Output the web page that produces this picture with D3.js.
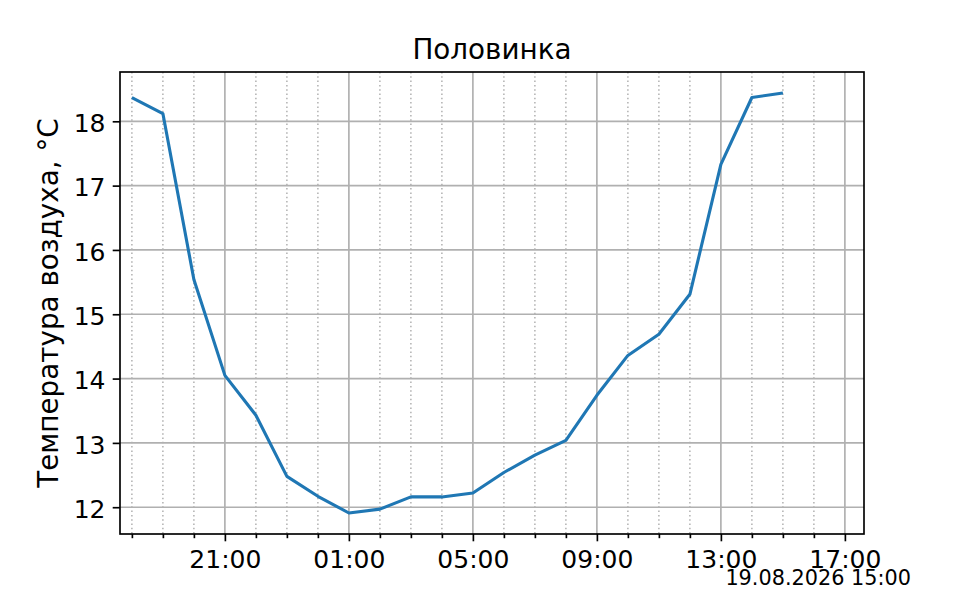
<!DOCTYPE html>
<html><head><meta charset="utf-8">
<script src="https://cdn.jsdelivr.net/npm/d3@7"></script>
<style>
body{margin:0;background:#fff;}
text{font-family:"DejaVu Sans",sans-serif;fill:#000;}
</style></head>
<body><svg id="c" width="960" height="600"></svg>
<script>
const title = "Половинка";
const yLabel = "Температура воздуха, °C";
const stamp = "19.08.2026 15:00";
const times = ["2026-08-18T18:00","2026-08-18T19:00","2026-08-18T20:00","2026-08-18T21:00","2026-08-18T22:00","2026-08-18T23:00","2026-08-19T00:00","2026-08-19T01:00","2026-08-19T02:00","2026-08-19T03:00","2026-08-19T04:00","2026-08-19T05:00","2026-08-19T06:00","2026-08-19T07:00","2026-08-19T08:00","2026-08-19T09:00","2026-08-19T10:00","2026-08-19T11:00","2026-08-19T12:00","2026-08-19T13:00","2026-08-19T14:00","2026-08-19T15:00"];
const temps = [18.37,18.12,15.54,14.05,13.43,12.48,12.17,11.91,11.97,12.16,12.16,12.22,12.54,12.81,13.04,13.74,14.36,14.69,15.31,17.33,18.37,18.44];
const xStart = "2026-08-18T17:37", xEnd = "2026-08-19T17:37";
const yTicks = [12,13,14,15,16,17,18];

const W=960,H=600,L=120,R=864,T=72,B=534;
const svg=d3.select("#c");
const parse=d3.timeParse("%Y-%m-%dT%H:%M");
const data=times.map((t,i)=>({t:parse(t),v:temps[i]}));
const x=d3.scaleTime().domain([parse(xStart),parse(xEnd)]).range([L,R]);
const ext=d3.extent(temps), pad=(ext[1]-ext[0])*0.05;
const y=d3.scaleLinear().domain([ext[0]-pad,ext[1]+pad]).range([B,T]);

const hours=x.ticks(d3.timeHour.every(1));
const majors=hours.filter(d=>d.getHours()%4===1);
const minors=hours.filter(d=>d.getHours()%4!==1);

// minor grid (dotted)
svg.append("g").selectAll("line").data(minors).join("line")
 .attr("x1",d=>x(d)).attr("x2",d=>x(d)).attr("y1",T).attr("y2",B)
 .attr("stroke","#b0b0b0").attr("stroke-width",1.5).attr("stroke-dasharray","1.5,2.8");
// major grid
svg.append("g").selectAll("line").data(majors).join("line")
 .attr("x1",d=>x(d)).attr("x2",d=>x(d)).attr("y1",T).attr("y2",B)
 .attr("stroke","#b0b0b0").attr("stroke-width",1.67);
svg.append("g").selectAll("line").data(yTicks).join("line")
 .attr("x1",L).attr("x2",R).attr("y1",d=>y(d)).attr("y2",d=>y(d))
 .attr("stroke","#b0b0b0").attr("stroke-width",1.67);

// line
svg.append("path").datum(data)
 .attr("d",d3.line().x(d=>x(d.t)).y(d=>y(d.v)))
 .attr("fill","none").attr("stroke","#1f77b4").attr("stroke-width",3.1)
 .attr("stroke-linejoin","round").attr("stroke-linecap","butt");

// axes
const xAxis=svg.append("g").attr("transform",`translate(0,${B})`)
 .call(d3.axisBottom(x).tickValues(majors).tickFormat(d3.timeFormat("%H:%M")).tickSize(7.3));
const xMinor=svg.append("g").attr("transform",`translate(0,${B})`)
 .call(d3.axisBottom(x).tickValues(minors).tickFormat("").tickSize(4.2));
const yAxis=svg.append("g").attr("transform",`translate(${L},0)`)
 .call(d3.axisLeft(y).tickValues(yTicks).tickFormat(d3.format("d")).tickSize(7.3).tickPadding(7.2));
[xAxis,xMinor,yAxis].forEach(g=>{
 g.select(".domain").remove();
 g.selectAll(".tick line").attr("stroke","#000").attr("stroke-width",1.67);
 g.selectAll(".tick text").attr("font-size",25).attr("font-family","DejaVu Sans").attr("fill","#000");
});
xAxis.selectAll(".tick text").attr("y",34.3).attr("dy",0);
yAxis.selectAll(".tick text").attr("dy","0.41em");

// frame
svg.append("rect").attr("x",L).attr("y",T).attr("width",R-L).attr("height",B-T)
 .attr("fill","none").attr("stroke","#000").attr("stroke-width",1.67);

svg.append("text").attr("x",(L+R)/2).attr("y",59).attr("text-anchor","middle")
 .attr("font-size",27.8).text(title);
svg.append("text").attr("transform",`translate(58.3,${(T+B)/2}) rotate(-90)`)
 .attr("text-anchor","middle").attr("font-size",27.8).text(yLabel);
svg.append("text").attr("x",911).attr("y",585).attr("text-anchor","end")
 .attr("font-size",20.8).text(stamp);
</script></body></html>
